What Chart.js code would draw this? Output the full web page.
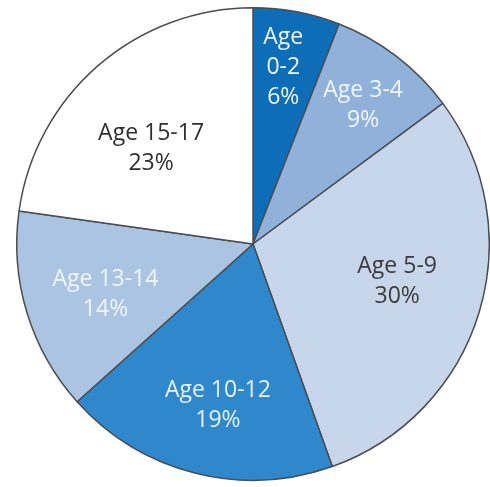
<!DOCTYPE html>
<html lang="en">
<head>
    <meta charset="UTF-8">
    <title>Age distribution</title>
    <script src="https://cdn.jsdelivr.net/npm/chart.js"></script>
    <style>
        html, body { margin: 0; padding: 0; background: #ffffff; }
        #wrap { width: 490px; height: 487px; }
    </style>
</head>
<body>
    <div id="wrap"><canvas id="agePie" width="490" height="487"></canvas></div>
    <script>
        const ageGroups = ['Age 0-2', 'Age 3-4', 'Age 5-9', 'Age 10-12', 'Age 13-14', 'Age 15-17'];
        const shares = [6, 9, 30, 19, 14, 23];
        const sliceColors = ['#0d6db6', '#8fb1da', '#c7d6ea', '#2e88cb', '#aac4e2', '#ffffff'];
        const textColors = ['#eef5fc', '#f2f6fb', '#3b3b3b', '#e8f1fa', '#f2f6fb', '#2f2f2f'];
        // label lines per slice (0-2 is narrow, so it stacks)
        const labelLines = [['Age', '0-2', '6%'], ['Age 3-4', '9%'], ['Age 5-9', '30%'],
                            ['Age 10-12', '19%'], ['Age 13-14', '14%'], ['Age 15-17', '23%']];
        const labelRadius = [0.76, 0.75, 0.63, 0.70, 0.66, 0.59];
        const labelShift = [-1, 1, -2.5, -2, -2, -6]; // degrees

        const sliceLabels = {
            id: 'sliceLabels',
            afterDatasetsDraw(chart) {
                const ctx = chart.ctx;
                const meta = chart.getDatasetMeta(0);
                ctx.save();
                ctx.font = '23px "Open Sans", sans-serif';
                ctx.textAlign = 'center';
                ctx.textBaseline = 'middle';
                meta.data.forEach((arc, i) => {
                    const p = arc.getProps(['x', 'y', 'startAngle', 'endAngle', 'outerRadius'], true);
                    const mid = (p.startAngle + p.endAngle) / 2 + labelShift[i] * Math.PI / 180;
                    const r = p.outerRadius * labelRadius[i];
                    const cx = p.x + Math.cos(mid) * r;
                    const cy = p.y + Math.sin(mid) * r;
                    const lines = labelLines[i];
                    const lh = 30;
                    ctx.fillStyle = textColors[i];
                    lines.forEach((t, k) => {
                        ctx.fillText(t, cx, cy + (k - (lines.length - 1) / 2) * lh);
                    });
                });
                ctx.restore();
            }
        };

        new Chart(document.getElementById('agePie'), {
            type: 'pie',
            data: {
                labels: ageGroups,
                datasets: [{
                    data: shares,
                    backgroundColor: sliceColors,
                    borderColor: '#4a4d52',
                    borderWidth: 1.5
                }]
            },
            options: {
                responsive: false,
                animation: false,
                layout: { padding: { top: 7, bottom: 6, left: 16, right: 0 } },
                plugins: {
                    legend: { display: false },
                    tooltip: { enabled: false }
                }
            },
            plugins: [sliceLabels]
        });
    </script>
</body>
</html>
